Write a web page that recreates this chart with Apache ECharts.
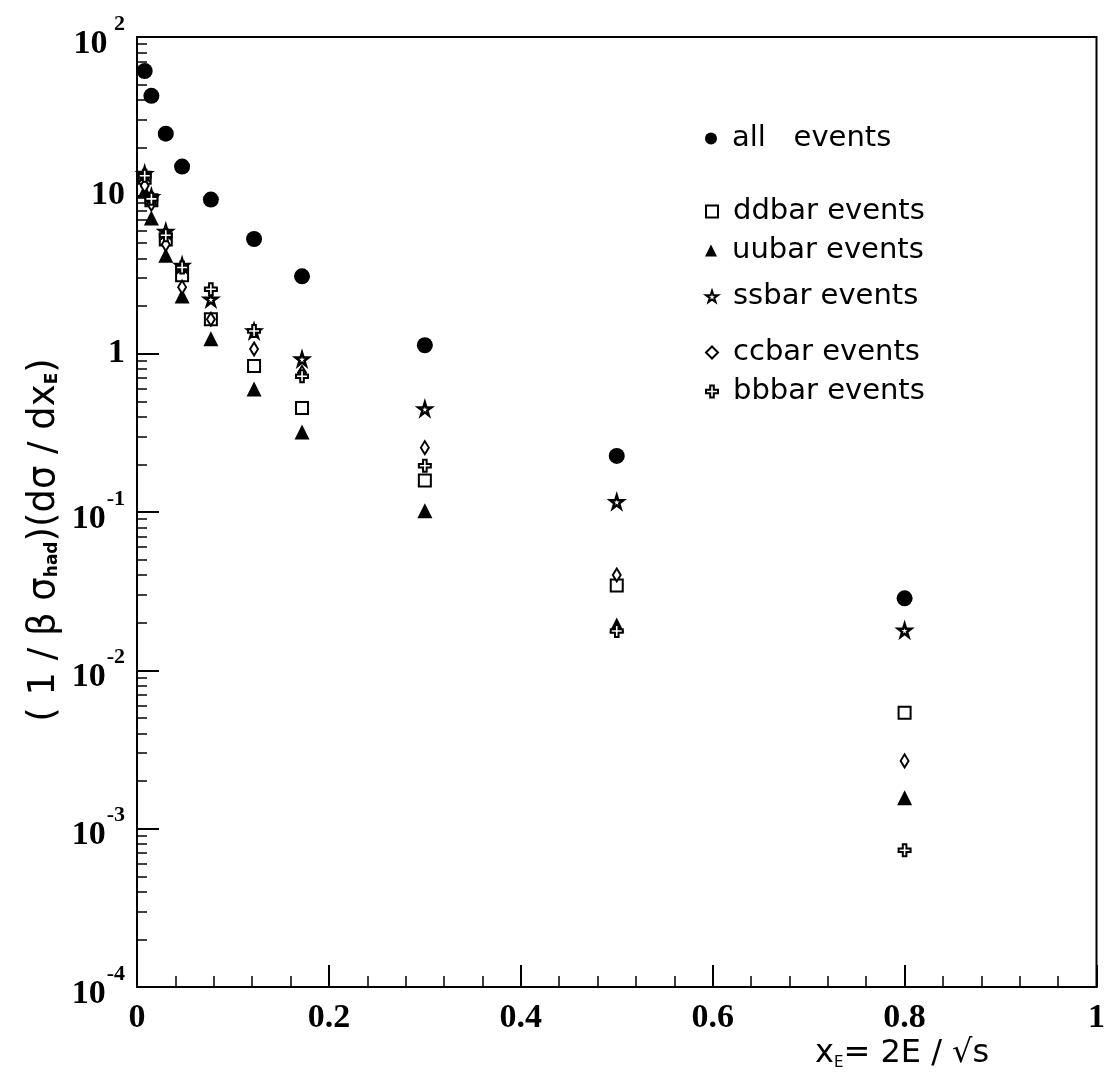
<!DOCTYPE html>
<html>
<head>
<meta charset="utf-8">
<script src="https://cdn.jsdelivr.net/npm/echarts@6/dist/echarts.min.js"></script>
<style>
html,body{margin:0;padding:0;background:#fff;}
#chart{width:1108px;height:1076px;}
</style>
</head>
<body>
<div id="chart"></div>
<script>
// ---- data ----
const xE = [0.008, 0.015, 0.03, 0.047, 0.077, 0.122, 0.172, 0.3, 0.5, 0.8];
const allEvents   = [61, 42.5, 24.5, 15.2, 9.4, 5.3, 3.08, 1.13, 0.226, 0.0285];
const ddbarEvents = [12.9, 9.3, 5.27, 3.13, 1.65, 0.835, 0.454, 0.158, 0.0344, 0.0054];
const uubarEvents = [10.6, 7.2, 4.18, 2.31, 1.24, 0.598, 0.32, 0.102, 0.0193, 0.00157];
const ssbarEvents = [13.7, 9.8, 5.9, 3.61, 2.21, 1.39, 0.925, 0.448, 0.116, 0.0179];
const ccbarEvents = [11.5, 8.8, 4.9, 2.63, 1.65, 1.07, 0.76, 0.255, 0.040, 0.00268];
const bbbarEvents = [13.3, 9.5, 5.6, 3.5, 2.55, 1.39, 0.72, 0.196, 0.0177, 0.00073];

const yMajorTicks = [1e-4, 1e-3, 1e-2, 1e-1, 1, 10, 100];
const yMajorLabels = ['{b|10}{s|-4}', '{b|10}{s|-3}', '{b|10}{s|-2}', '{b|10}{s|-1}', '{b|1}', '{b|10}', '{b|10}{s| 2}'];
const minorMultipliers = [2, 3, 4, 5, 6, 7, 8, 9];
const xTickLabels = ['0', '0.2', '0.4', '0.6', '0.8', '1'];

const seriesNames = ['all   events', 'ddbar events', 'uubar events', 'ssbar events', 'ccbar events', 'bbbar events'];
const legendTops = [141, 214, 253, 299, 355, 394];

// ---- build ----
const yMinorTicks = [];
for (let k = 0; k < yMajorTicks.length - 1; k++) {
  minorMultipliers.forEach(m => yMinorTicks.push(yMajorTicks[k] * m));
}
const pair = arr => xE.map((x, i) => [x, arr[i]]);

const STAR = 'path://M50,0 L61,35 L98,35 L68,57 L79,91 L50,70 L21,91 L32,57 L2,35 L39,35 Z';
const CROSS = 'path://M35,0 L65,0 L65,35 L100,35 L100,65 L65,65 L65,100 L35,100 L35,65 L0,65 L0,35 L35,35 Z';
const openStyle = {color: '#ffffff', borderColor: '#000', borderWidth: 2, opacity: 1};
const filledStyle = {color: '#000', opacity: 1};

const serif = '"Liberation Serif", "DejaVu Serif", serif';
const sans = '"DejaVu Sans", "Liberation Sans", sans-serif';

const chart = echarts.init(document.getElementById('chart'), null, {renderer: 'canvas'});

const legends = seriesNames.map((n, i) => ({
  data: [n],
  left: 705,
  top: legendTops[i] - 17,
  itemWidth: 12,
  itemHeight: 12,
  itemGap: 0,
  padding: 0,
  selectedMode: false,
  textStyle: {fontFamily: sans, fontSize: 29, color: '#000', padding: [0, 0, 0, 10]}
}));

const option = {
  backgroundColor: '#fff',
  animation: false,
  legend: legends,
  grid: {left: 137, right: 8, top: 37, bottom: 89, show: true, borderColor: '#000', borderWidth: 2, backgroundColor: 'transparent'},
  xAxis: {
    type: 'value', min: 0, max: 1, interval: 0.2,
    axisLine: {show: true, lineStyle: {color: '#000', width: 2}},
    axisTick: {show: true, inside: true, length: 22, lineStyle: {color: '#000', width: 2}},
    minorTick: {show: true, splitNumber: 5, length: 11, lineStyle: {color: '#000', width: 1.5}},
    splitLine: {show: false},
    axisLabel: {
      margin: 14, color: '#000', fontFamily: serif, fontWeight: 'bold', fontSize: 34,
      formatter: v => xTickLabels[Math.round(v / 0.2)]
    }
  },
  yAxis: [{
    type: 'log', logBase: 10, min: 1e-4, max: 100,
    axisLine: {show: true, lineStyle: {color: '#000', width: 2}},
    axisTick: {show: true, inside: true, length: 22, customValues: yMajorTicks, lineStyle: {color: '#000', width: 2}},
    splitLine: {show: false},
    axisLabel: {
      customValues: yMajorTicks, margin: 12, color: '#000',
      formatter: v => yMajorLabels[Math.round(Math.log10(v)) + 4],
      rich: {
        b: {fontFamily: serif, fontWeight: 'bold', fontSize: 34, color: '#000', verticalAlign: 'bottom'},
        s: {fontFamily: serif, fontWeight: 'bold', fontSize: 22, color: '#000', verticalAlign: 'top', padding: [0, 0, 26, 1]}
      }
    }
  }, {
    type: 'log', logBase: 10, min: 1e-4, max: 100, position: 'left',
    axisLine: {show: false},
    axisTick: {show: true, inside: true, length: 10, customValues: yMinorTicks, lineStyle: {color: '#000', width: 1.5}},
    axisLabel: {show: false},
    splitLine: {show: false}
  }],
  graphic: [{
    type: 'text', x: 44, y: 540, rotation: Math.PI / 2,
    style: {
      text: '{t|( 1 / β σ}{sub|had}{t|)(dσ / dx}{sub|E}{t|)}',
      align: 'center', verticalAlign: 'middle',
      rich: {
        t: {fontFamily: sans, fontSize: 37, fill: '#000'},
        sub: {fontFamily: sans, fontSize: 17, fontWeight: 'bold', fill: '#000', padding: [18, 0, 0, 0]}
      }
    }
  }, {
    type: 'text', left: 815, top: 1038,
    style: {
      text: '{t|x}{sub|E}{t|= 2E / √s}',
      rich: {
        t: {fontFamily: sans, fontSize: 32, fill: '#000'},
        sub: {fontFamily: sans, fontSize: 15, fill: '#000', padding: [18, 0, 0, 0]}
      }
    }
  }],
  series: [
    {name: seriesNames[0], type: 'scatter', data: pair(allEvents), symbol: 'circle', symbolSize: 16, itemStyle: filledStyle, z: 3},
    {name: seriesNames[1], type: 'scatter', data: pair(ddbarEvents), symbol: 'rect', symbolSize: 12, itemStyle: openStyle, z: 4},
    {name: seriesNames[2], type: 'scatter', data: pair(uubarEvents), symbol: 'triangle', symbolSize: 15, itemStyle: filledStyle, z: 5},
    {name: seriesNames[3], type: 'scatter', data: pair(ssbarEvents), symbol: STAR, symbolSize: 13, itemStyle: {color: '#ffffff', borderColor: '#000', borderWidth: 2.5, opacity: 1}, z: 6},
    {name: seriesNames[4], type: 'scatter', data: pair(ccbarEvents), symbol: 'diamond', symbolSize: [8, 13], itemStyle: openStyle, z: 7},
    {name: seriesNames[5], type: 'scatter', data: pair(bbbarEvents), symbol: CROSS, symbolSize: 12, itemStyle: openStyle, z: 8}
  ]
};
chart.setOption(option);
</script>
</body>
</html>
